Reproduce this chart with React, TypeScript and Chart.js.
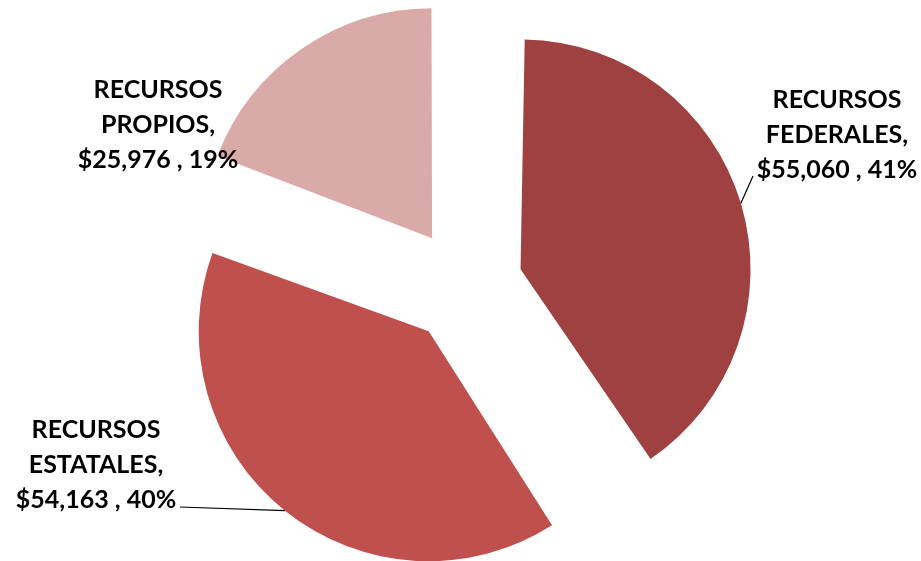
import React, { useEffect, useRef } from "react";
import { Chart, registerables } from "chart.js";

Chart.register(...registerables);

const categories = ["RECURSOS FEDERALES", "RECURSOS ESTATALES", "RECURSOS PROPIOS"];
const labelLines = [
  ["RECURSOS", "FEDERALES,"],
  ["RECURSOS", "ESTATALES,"],
  ["RECURSOS", "PROPIOS,"],
];
const values = [55060, 54163, 25976];
const colors = ["#9E4140", "#C0504D", "#DAAAA9"];

const RADIUS = 230;
const OFFSET = 232; // Chart.js translates arcs by offset/4

// label layout: center x, first baseline y, leader end (text side) or null
const labelLayout = [
  { x: 837, y: 108, leader: { x: 753, y: 176 } },
  { x: 96, y: 438, leader: { x: 180, y: 507 } },
  { x: 158, y: 98, leader: null as null | { x: number; y: number } },
];

function fmtMoney(v: number) {
  return "$" + v.toLocaleString("en-US");
}

const labelPlugin = {
  id: "pieLabels",
  afterDatasetUpdate(chart: any, args: any) {
    const meta = args.meta;
    meta.data.forEach((arc: any) => {
      const off = OFFSET / 4;
      const fix = 1 - Math.sin(Math.min(Math.PI, arc.circumference || 0));
      arc.outerRadius = RADIUS - off * fix;
    });
  },
  afterDatasetsDraw(chart: any) {
    const ctx = chart.ctx;
    const meta = chart.getDatasetMeta(0);
    const total = values.reduce((a, b) => a + b, 0);
    ctx.save();
    meta.data.forEach((arc: any, i: number) => {
      const lay = labelLayout[i];
      const half = (arc.startAngle + arc.endAngle) / 2;
      const off = OFFSET / 4;
      const ax = arc.x + Math.cos(half) * (off + RADIUS);
      const ay = arc.y + Math.sin(half) * (off + RADIUS);
      if (lay.leader) {
        ctx.strokeStyle = "#000000";
        ctx.lineWidth = 1.2;
        ctx.beginPath();
        ctx.moveTo(ax, ay);
        ctx.lineTo(lay.leader.x, lay.leader.y);
        ctx.stroke();
      }
      const pct = Math.round((values[i] / total) * 100);
      const lines = [...labelLines[i], `${fmtMoney(values[i])} , ${pct}%`];
      ctx.fillStyle = "#000000";
      ctx.font = "bold 25px Lato";
      ctx.textAlign = "center";
      ctx.textBaseline = "alphabetic";
      lines.forEach((t, k) => {
        ctx.fillText(t, lay.x, lay.y + k * 35);
      });
    });
    ctx.restore();
  },
};

export default function App() {
  const ref = useRef<HTMLCanvasElement | null>(null);
  useEffect(() => {
    if (!ref.current) return;
    const chart = new Chart(ref.current, {
      type: "pie",
      data: {
        labels: categories,
        datasets: [
          {
            data: values,
            backgroundColor: colors,
            borderWidth: 0,
            offset: OFFSET,
            hoverOffset: OFFSET,
            radius: RADIUS,
          } as any,
        ],
      },
      options: {
        responsive: false,
        animation: false,
        layout: { padding: { left: 9, top: 11, right: 0, bottom: 0 } },
        plugins: { legend: { display: false }, tooltip: { enabled: false } },
        events: [],
      },
      plugins: [labelPlugin],
    });
    return () => chart.destroy();
  }, []);
  return (
    <div style={{ position: "fixed", left: 0, top: 0, width: 921, height: 561, background: "#fff" }}>
      <canvas ref={ref} width={921} height={561} style={{ display: "block", width: 921, height: 561 }} />
    </div>
  );
}
